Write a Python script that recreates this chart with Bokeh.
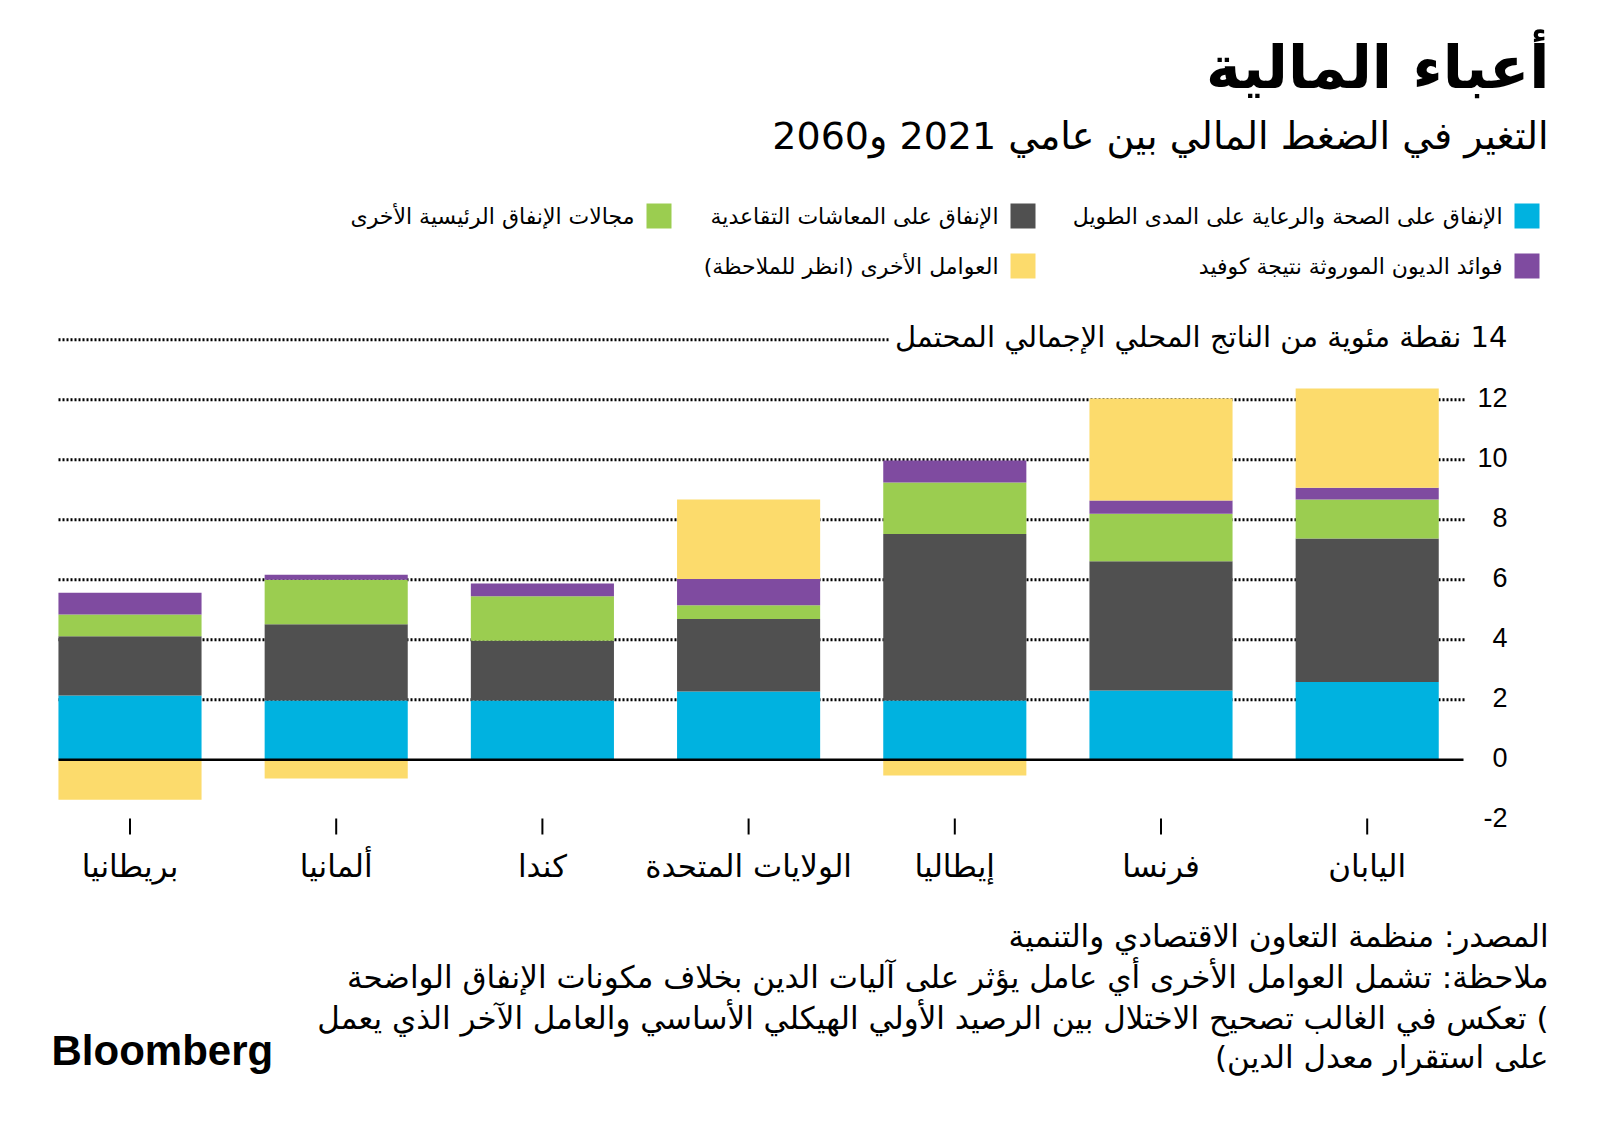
import numpy as np
from bokeh.plotting import figure
from bokeh.models import ColumnDataSource, Label, BoxAnnotation, Range1d
from bokeh.embed import file_html
from bokeh.resources import INLINE
from bokeh.core.properties import value

# ---------------- data ----------------
countries = ["بريطانيا", "ألمانيا", "كندا", "الولايات المتحدة", "إيطاليا", "فرنسا", "اليابان"]
health = [2.14, 1.98, 1.98, 2.28, 1.98, 2.31, 2.59]
pensions = [1.98, 2.54, 1.99, 2.41, 5.55, 4.31, 4.79]
other_spending = [0.72, 1.48, 1.48, 0.46, 1.71, 1.58, 1.30]
covid_debt = [0.73, 0.17, 0.43, 0.88, 0.74, 0.44, 0.39]
other_factors = [-1.33, -0.62, 0.0, 2.65, -0.52, 3.40, 3.31]

series_names = [
    "الإنفاق على الصحة والرعاية على المدى الطويل",
    "الإنفاق على المعاشات التقاعدية",
    "مجالات الإنفاق الرئيسية الأخرى",
    "فوائد الديون الموروثة نتيجة كوفيد",
    "العوامل الأخرى (انظر للملاحظة)",
]
colors = ["#00b2e0", "#505050", "#9bcd50", "#7f4ba0", "#fcdb6c"]

y_tick_values = [-2, 0, 2, 4, 6, 8, 10, 12]
y_tick_labels = ["-2", "0", "2", "4", "6", "8", "10", "12"]
grid_values = [2, 4, 6, 8, 10, 12, 14]
top_label = "14 نقطة مئوية من الناتج المحلي الإجمالي المحتمل"

title = "أعباء المالية"
subtitle = "التغير في الضغط المالي بين عامي 2021 و2060"
footer_lines = [
    "المصدر: منظمة التعاون الاقتصادي والتنمية",
    "ملاحظة: تشمل العوامل الأخرى أي عامل يؤثر على آليات الدين بخلاف مكونات الإنفاق الواضحة",
    ") تعكس في الغالب تصحيح الاختلال بين الرصيد الأولي الهيكلي الأساسي والعامل الآخر الذي يعمل",
    "على استقرار معدل الدين)",
]

AR = "DejaVu Sans"
NUM = "Liberation Sans"
RLM = "\u200f"


def rtl(s):
    return RLM + s + RLM


# ---------------- layout (pixels) ----------------
W, H = 1600, 1129
X0_PX, DX_PX = 129.5, 206.2      # centre of first bar, spacing between bars
Y0_PX, DY_PX = 759.3, 30.0       # pixel row of value 0, pixels per unit
BAR_W = 0.694


def px_x(px):
    return (px - X0_PX) / DX_PX


def px_y(py):
    return (Y0_PX - py) / DY_PX


p = figure(width=W, height=H,
           x_range=Range1d(px_x(0), px_x(W)), y_range=Range1d(px_y(H), px_y(0)),
           output_backend="svg", toolbar_location=None,
           x_axis_location=None, y_axis_location=None,
           min_border=0)
p.outline_line_color = None
p.background_fill_color = "white"
p.border_fill_color = "white"
p.xgrid.visible = False
p.ygrid.visible = False

# dotted grid lines
gl_x0, gl_x1 = px_x(58), px_x(1464)
p.segment(x0=[gl_x0] * len(grid_values), x1=[gl_x1] * len(grid_values),
          y0=grid_values, y1=grid_values, line_color="black", line_width=3,
          line_dash="2 2")

# ---------------- stacked bars ----------------
x = np.arange(len(countries))
stack = [np.array(health), np.array(pensions), np.array(other_spending), np.array(covid_debt)]
cum = np.zeros(len(countries))
for vals, col in zip(stack, colors[:4]):
    src = ColumnDataSource(dict(x=x, bottom=cum.copy(), top=cum + vals))
    p.vbar(x="x", bottom="bottom", top="top", width=BAR_W, source=src,
           fill_color=col, line_color=None)
    cum = cum + vals
of = np.array(other_factors)
src = ColumnDataSource(dict(x=x, bottom=np.where(of > 0, cum, 0.0),
                            top=np.where(of > 0, cum + of, of)))
p.vbar(x="x", bottom="bottom", top="top", width=BAR_W, source=src,
       fill_color=colors[4], line_color=None)

# zero line
p.segment(x0=[gl_x0], x1=[px_x(1463)], y0=[0], y1=[0], line_color="black", line_width=2.5)

# ---------------- x axis (ticks + labels) ----------------
p.segment(x0=x, x1=x, y0=[px_y(818)] * len(x), y1=[px_y(834)] * len(x),
          line_color="black", line_width=2)
p.text(x=x, y=[px_y(865)] * len(x), text=[rtl(c) for c in countries],
       text_align="center", text_baseline="alphabetic",
       text_font=value(AR), text_font_size="31px", text_color="black")

# ---------------- y axis labels ----------------
p.text(x=[px_x(1507)] * len(y_tick_values), y=y_tick_values, text=y_tick_labels,
       text_align="right", text_baseline="middle", y_offset=-2,
       text_font=value(NUM), text_font_size="27px", text_color="black")
p.add_layout(Label(x=px_x(1513), y=14, y_offset=3, text=rtl(top_label),
                   text_align="right", text_baseline="middle", text_font=AR,
                   text_font_size="29px", text_color="black",
                   background_fill_color="white", padding=6))

# ---------------- header ----------------
p.add_layout(Label(x=1549, y=67, x_units="canvas", y_units="canvas", text=rtl(title),
                   text_align="right", text_baseline="alphabetic", text_font=AR,
                   text_font_style="bold", text_font_size="59px", text_color="black"))
p.add_layout(Label(x=1548, y=135, x_units="canvas", y_units="canvas", text=rtl(subtitle),
                   text_align="right", text_baseline="alphabetic", text_font=AR,
                   text_font_size="38px", text_color="black"))

legend_pos = [(1514, 203), (1010, 203), (646, 203), (1514, 253), (1010, 253)]
for (lx, ty), name, col in zip(legend_pos, series_names, colors):
    p.add_layout(BoxAnnotation(left=lx, right=lx + 25, top=ty, bottom=ty + 25,
                               left_units="canvas", right_units="canvas",
                               top_units="canvas", bottom_units="canvas",
                               fill_color=col, fill_alpha=1, line_color=None))
    p.add_layout(Label(x=lx - 12, y=ty + 13, x_units="canvas", y_units="canvas",
                       text=rtl(name), text_align="right", text_baseline="alphabetic",
                       text_font=AR, text_font_size="22px", text_color="black"))

# ---------------- footer ----------------
for i, (line, base) in enumerate(zip(footer_lines, [935, 976, 1017, 1056])):
    p.add_layout(Label(x=1548, y=base, x_units="canvas", y_units="canvas", text=rtl(line),
                       text_align="right", text_baseline="alphabetic", text_font=AR,
                       text_font_size="31px", text_color="black"))
p.add_layout(Label(x=51, y=1050, x_units="canvas", y_units="canvas", text="Bloomberg",
                   text_align="left", text_baseline="alphabetic", text_font=NUM,
                   text_font_style="bold", text_font_size="42px", text_color="black"))

open("out.html", "w").write(file_html(p, INLINE))
